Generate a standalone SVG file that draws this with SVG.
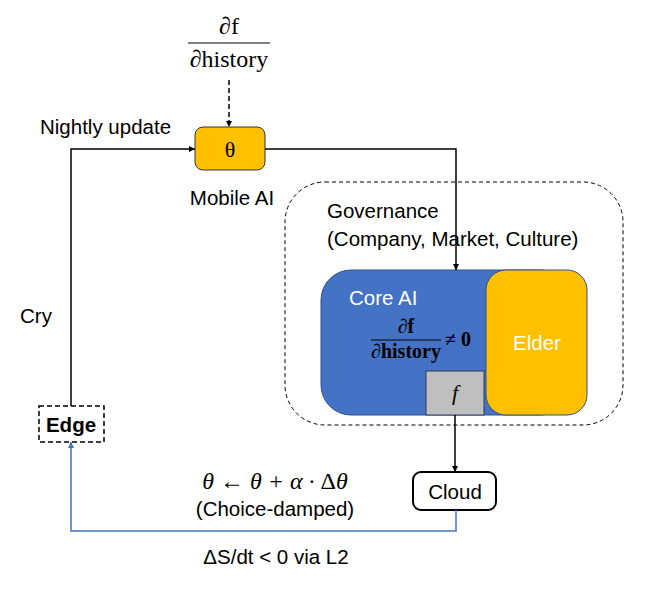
<svg xmlns="http://www.w3.org/2000/svg" width="658" height="591" viewBox="0 0 658 591">
<defs>
<marker id="ah" viewBox="0 0 10 10" refX="10" refY="5" markerWidth="6" markerHeight="6" orient="auto" markerUnits="userSpaceOnUse"><path d="M0,0 L10,5 L0,10 z" fill="#000"/></marker>
<marker id="ahb" viewBox="0 0 10 10" refX="10" refY="5" markerWidth="6" markerHeight="6" orient="auto" markerUnits="userSpaceOnUse"><path d="M0,0 L10,5 L0,10 z" fill="#4472C4"/></marker>
<style>
.t{font-family:"Liberation Sans",Arial,sans-serif;font-size:20.5px;fill:#000}
.m{font-family:"Liberation Serif","DejaVu Serif",serif;fill:#000}
.w{fill:#fff}
.c{stroke:#000;stroke-width:1.5;fill:none}
</style>
</defs>
<rect width="658" height="591" fill="#fff"/>
<g id="governance">
<rect x="285" y="182" width="338" height="243" rx="40" fill="none" stroke="#000" stroke-width="1" stroke-dasharray="4,3"/>
<text class="t" x="327" y="218">Governance</text>
<text class="t" x="327" y="246">(Company, Market, Culture)</text>
</g>
<g id="coreai">
<rect x="321" y="270" width="250" height="145" rx="30" fill="#4472C4" stroke="#2F528F" stroke-width="1"/>
<text class="t w" x="349" y="305">Core AI</text>
<text class="m" x="406" y="333" font-size="20" font-weight="bold" text-anchor="middle">∂f</text>
<line x1="371" y1="340" x2="441" y2="340" stroke="#000" stroke-width="1"/>
<text class="m" x="406" y="358" font-size="20" font-weight="bold" text-anchor="middle">∂history</text>
<text class="m" x="445" y="346" font-size="20" font-weight="bold">≠ 0</text>
</g>
<g id="elder">
<rect x="486" y="270" width="101" height="145" rx="20" fill="#FFC000" stroke="#2F528F" stroke-width="1"/>
<text class="t w" x="537" y="350" text-anchor="middle">Elder</text>
</g>
<g id="f">
<rect x="426" y="371" width="58" height="44" fill="#BFBFBF" stroke="#2F3B55" stroke-width="1"/>
<text class="m" x="455" y="400" font-size="22" font-style="italic" text-anchor="middle">f</text>
</g>
<g id="theta">
<rect x="195" y="127" width="70" height="43" rx="8" fill="#FFC000" stroke="#333" stroke-width="1"/>
<text class="m" x="230" y="157" font-size="22" text-anchor="middle">θ</text>
<text class="t" x="232" y="205" text-anchor="middle">Mobile AI</text>
</g>
<g id="partial">
<text class="m" x="229" y="34" font-size="24" text-anchor="middle">∂f</text>
<line x1="188" y1="43" x2="270" y2="43" stroke="#000" stroke-width="1"/>
<text class="m" x="229" y="67" font-size="24" text-anchor="middle">∂history</text>
</g>
<g id="cloud">
<rect x="413" y="472" width="83" height="38" rx="8" fill="#fff" stroke="#000" stroke-width="2"/>
<text class="t" x="455" y="499" text-anchor="middle">Cloud</text>
</g>
<g id="edge">
<rect x="39" y="406" width="65" height="36" fill="#fff" stroke="#000" stroke-width="1.5" stroke-dasharray="5,3"/>
<text class="t" x="71" y="432" font-weight="bold" text-anchor="middle">Edge</text>
</g>
<g id="connectors">
<line class="c" x1="229" y1="80" x2="229" y2="127" stroke-dasharray="5,3" marker-end="url(#ah)"/>
<polyline class="c" points="71,406 71,149 195,149" marker-end="url(#ah)"/>
<polyline class="c" points="265,149 456,149 456,270" marker-end="url(#ah)"/>
<line class="c" x1="455" y1="415" x2="455" y2="472" marker-end="url(#ah)"/>
<polyline points="456,510 456,531 71,531 71,442" fill="none" stroke="#4472C4" stroke-width="1.5" marker-end="url(#ahb)"/>
</g>
<g id="labels">
<text class="t" x="40" y="134">Nightly update</text>
<text class="t" x="20" y="323">Cry</text>
<text class="m" x="275" y="489" font-size="24" font-style="italic" text-anchor="middle">θ ← θ + α · <tspan font-style="normal">Δ</tspan>θ</text>
<text class="t" x="275" y="516" text-anchor="middle">(Choice-damped)</text>
<text class="t" x="276" y="564" text-anchor="middle">ΔS/dt &lt; 0 via L2</text>
</g>
</svg>
